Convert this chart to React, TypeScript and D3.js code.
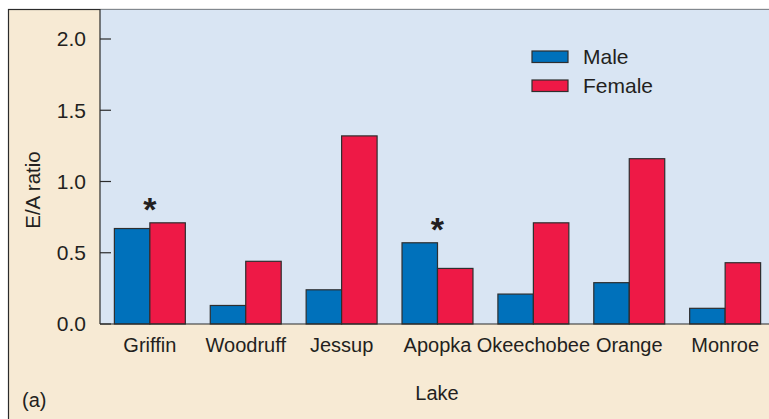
import React from 'react';
import * as d3 from 'd3';

const lakes = ['Griffin', 'Woodruff', 'Jessup', 'Apopka', 'Okeechobee', 'Orange', 'Monroe'];
const maleValues = [0.67, 0.13, 0.24, 0.57, 0.21, 0.29, 0.11];
const femaleValues = [0.71, 0.44, 1.32, 0.39, 0.71, 1.16, 0.43];
const significant = ['Griffin', 'Apopka'];
const sexes = ['Male', 'Female'];
const yTicks = [0, 0.5, 1.0, 1.5, 2.0];

const COLORS: Record<string, string> = { Male: '#0071bb', Female: '#ee1946' };
const FONT = '"Liberation Sans", Arial, Helvetica, sans-serif';
const INK = '#231f20';

export default function App() {
  const width = 769;
  const height = 419;
  const plot = { left: 100, top: 9, right: 775, bottom: 324 };

  const x = d3
    .scaleBand<string>()
    .domain(lakes)
    .range([plot.left, plot.right])
    .paddingInner(0.26)
    .paddingOuter(0.15);

  const xSex = d3.scaleBand<string>().domain(sexes).range([0, x.bandwidth()]);

  const y = d3.scaleLinear().domain([0, 2.0]).range([plot.bottom, 39]);

  const rows = lakes.map((lake, i) => ({ lake, Male: maleValues[i], Female: femaleValues[i] }));

  return (
    <div style={{ position: 'absolute', left: 0, top: 0 }}>
      <svg width={width} height={height} style={{ display: 'block', fontFamily: FONT }}>
        <rect x={0} y={0} width={width} height={height} fill="#ffffff" />
        {/* outer panel */}
        <rect x={8.5} y={9.5} width={width + 20} height={height + 20} fill="#f7ead4" stroke="#2b2b2b" strokeWidth={1.2} />
        {/* plot background */}
        <rect
          x={plot.left}
          y={plot.top + 0.5}
          width={plot.right - plot.left}
          height={plot.bottom - plot.top - 0.5}
          fill="#d9e5f3"
        />
        <line x1={plot.left} x2={plot.left} y1={plot.top} y2={plot.bottom} stroke="#2b2b2b" strokeWidth={1.2} />

        {/* y ticks */}
        {yTicks.map((t) => (
          <g key={t} transform={`translate(0,${y(t)})`}>
            <line x1={plot.left} x2={plot.left + 11} stroke="#2b2b2b" strokeWidth={1.2} />
            <text x={86} dy="0.35em" textAnchor="end" fontSize={21} fill={INK}>
              {d3.format('.1f')(t)}
            </text>
          </g>
        ))}

        {/* bars */}
        {rows.map((row) => (
          <g key={row.lake} transform={`translate(${x(row.lake)},0)`}>
            {sexes.map((s) => {
              const v = (row as any)[s] as number;
              return (
                <rect
                  key={s}
                  x={xSex(s)}
                  y={y(v)}
                  width={xSex.bandwidth()}
                  height={y(0) - y(v)}
                  fill={COLORS[s]}
                  stroke="#2e2e2e"
                  strokeWidth={1.2}
                />
              );
            })}
            {significant.includes(row.lake) && (
              <text
                x={x.bandwidth() / 2}
                y={y(Math.max(row.Male, row.Female)) - 2}
                textAnchor="middle"
                fontSize={34}
                fontWeight="bold"
                fill={INK}
              >
                *
              </text>
            )}
          </g>
        ))}

        {/* x axis line */}
        <line x1={plot.left} x2={plot.right} y1={plot.bottom} y2={plot.bottom} stroke="#2b2b2b" strokeWidth={1.2} />

        {/* x labels */}
        {lakes.map((lake) => (
          <text
            key={lake}
            x={(x(lake) ?? 0) + x.bandwidth() / 2}
            y={352}
            textAnchor="middle"
            fontSize={20}
            fill={INK}
          >
            {lake}
          </text>
        ))}

        <text x={437} y={400} textAnchor="middle" fontSize={20} fill={INK}>
          Lake
        </text>
        <text
          transform={`translate(40,190) rotate(-90)`}
          textAnchor="middle"
          fontSize={20.5}
          fill={INK}
        >
          E/A ratio
        </text>
        <text x={22} y={407} fontSize={20} fill={INK}>
          (a)
        </text>

        {/* legend */}
        {sexes.map((s, i) => (
          <g key={s} transform={`translate(532,${51 + i * 29})`}>
            <rect width={36} height={11.5} fill={COLORS[s]} stroke="#2e2e2e" strokeWidth={1.2} />
            <text x={51} y={6} dy="0.35em" fontSize={21} fill={INK}>
              {s}
            </text>
          </g>
        ))}
      </svg>
    </div>
  );
}
